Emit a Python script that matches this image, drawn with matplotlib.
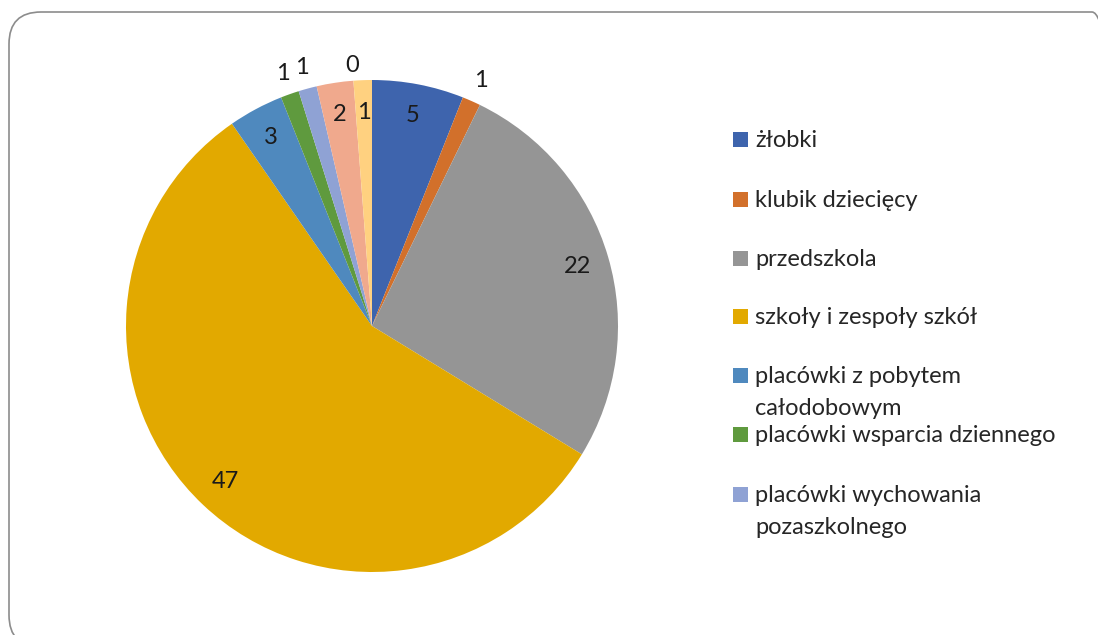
import matplotlib
matplotlib.use("Agg")
import matplotlib.pyplot as plt
from matplotlib.patches import FancyBboxPatch, Rectangle
from matplotlib.transforms import IdentityTransform
import numpy as np

categories = ["żłobki", "klubik dziecięcy", "przedszkola", "szkoły i zespoły szkół",
              "placówki z pobytem\ncałodobowym", "placówki wsparcia dziennego",
              "placówki wychowania\npozaszkolnego", "inne 1", "inne 2", "inne 3"]
values = [5, 1, 22, 47, 3, 1, 1, 2, 1, 0]
colors = ["#3E64AD", "#D2702B", "#959595", "#E2A900", "#4F89BE",
          "#5F9A3E", "#8FA2D4", "#F0A98D", "#FFD180", "#A8C8E8"]
legend_count = 7
inside = [True, False, True, True, True, False, False, True, True, False]

plt.rcParams['font.family'] = ['Lato', 'DejaVu Sans']

W, H = 1098, 635
fig = plt.figure(figsize=(W / 100, H / 100), dpi=100)
fig.patch.set_facecolor("white")

# rounded border (display pixel coordinates, y from bottom)
border = FancyBboxPatch((9, -12), 1124 - 9, H - 12 + 12,
                        boxstyle="round,pad=0,rounding_size=32",
                        transform=IdentityTransform(), fill=False,
                        edgecolor="#8C8C8C", linewidth=1.2)
fig.patches.append(border)

cx, cy, r = 372, 326, 246
ax = fig.add_axes([(cx - r) / W, 1 - (cy + r) / H, 2 * r / W, 2 * r / H])
wedges, _ = ax.pie(values, colors=colors, startangle=90, counterclock=False,
                   wedgeprops=dict(linewidth=0), radius=1)
ax.set_xlim(-1, 1)
ax.set_ylim(-1, 1)
ax.set_aspect("equal")
ax.axis("off")

total = sum(values)
cum = 0
for i, v in enumerate(values):
    mid = (cum + v / 2) / total * 360
    cum += v
    theta = np.deg2rad(90 - mid)
    rr = 0.87 if inside[i] else 1.09
    x, y = rr * np.cos(theta), rr * np.sin(theta)
    if v == 0:
        x -= 0.08
        y -= 0.03
    ax.text(x, y, str(v), ha="center", va="center", fontsize=17, color="#1a1a1a",
            clip_on=False)

# legend
baselines = [147, 207, 266, 324, 383, 442, 502]
for i in range(legend_count):
    b = baselines[i]
    fig.patches.append(Rectangle((733 / W, 1 - 147 / H + (147 - b) / H), 15 / W, 15 / H,
                                 transform=fig.transFigure, facecolor=colors[i],
                                 edgecolor="none"))
    for j, line in enumerate(categories[i].split("\n")):
        fig.text(755 / W, 1 - (b + 32 * j) / H, line, ha="left", va="baseline",
                 fontsize=17, color="#262626")

fig.savefig("out.png", dpi=100, facecolor="white")
